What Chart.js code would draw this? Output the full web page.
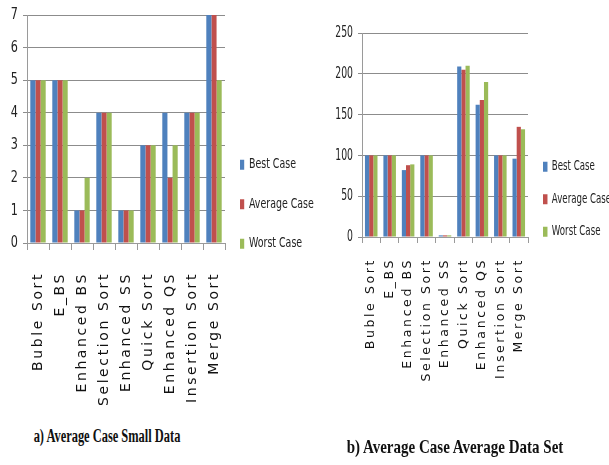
<!DOCTYPE html>
<html>
<head>
<meta charset="utf-8">
<script src="https://cdn.jsdelivr.net/npm/chart.js@4/dist/chart.umd.min.js"></script>
<style>
  html, body { margin: 0; padding: 0; background: #fff; }
  body { width: 609px; height: 465px; position: relative; overflow: hidden; }
  canvas { position: absolute; top: 0; }
  #chartA { left: 0; }
  #chartB { left: 320px; }
  .caption {
    position: absolute;
    font-family: "Liberation Serif", "Times New Roman", serif;
    font-weight: bold;
    color: #111;
    white-space: nowrap;
    transform-origin: center;
  }
  #capA { left: 107px; top: 426px; font-size: 18px; transform: translateX(-50%) scaleX(0.69); }
  #capB { left: 455px; top: 436px; font-size: 19px; transform: translateX(-50%) scaleX(0.79); }
</style>
</head>
<body>
<canvas id="chartA" width="340" height="420"></canvas>
<canvas id="chartB" width="289" height="420"></canvas>
<div class="caption" id="capA">a) Average Case Small Data</div>
<div class="caption" id="capB">b) Average Case Average Data Set</div>
<script>
// Sorting algorithms compared
const algorithms = ['Buble Sort', 'E_BS', 'Enhanced BS', 'Selection Sort', 'Enhanced SS',
                    'Quick Sort', 'Enhanced QS', 'Insertion Sort', 'Merge Sort'];
const seriesNames = ['Best Case', 'Average Case', 'Worst Case'];

// a) small data
const smallBest    = [5, 5, 1, 4, 1, 3, 4, 4, 7];
const smallAverage = [5, 5, 1, 4, 1, 3, 2, 4, 7];
const smallWorst   = [5, 5, 2, 4, 1, 3, 3, 4, 5];
const smallTicks   = [0, 1, 2, 3, 4, 5, 6, 7];

// b) average data set
const avgBest    = [100, 100, 82, 100, 2, 209, 162, 100, 96];
const avgAverage = [100, 100, 88, 100, 2, 205, 168, 100, 135];
const avgWorst   = [100, 100, 89, 100, 2, 210, 190, 100, 132];
const avgTicks   = [0, 50, 100, 150, 200, 250];

const seriesColors = ['#4F81BD', '#C0504D', '#9BBB59'];
const baseFont = '"DejaVu Sans", Verdana, sans-serif';

// Letter-spaced category labels, horizontally condensed value labels and legend
const textStyling = {
  id: 'textStyling',
  afterLayout(chart, args, opts) {
    // place the legend block beside the plot
    const l = chart.legend;
    if (l) {
      l.left += opts.legendDx || 0;
      l.top += opts.legendDy || 0;
      l.bottom += opts.legendDy || 0;
    }
  },
  beforeDraw(chart, args, opts) {
    const x = chart.scales.x, y = chart.scales.y, l = chart.legend;
    if (!x._styled) {
      const orig = x.drawLabels;
      x.drawLabels = function (area) {
        const ctx = this.ctx;
        ctx.save();
        ctx.letterSpacing = opts.spacing || '0px';
        orig.call(this, area);
        ctx.restore();
      };
      x._styled = true;
    }
    if (!y._styled) {
      const orig = y.drawLabels;
      y.drawLabels = function (area) {
        const ctx = this.ctx;
        const ox = this.right - this.options.grid.tickLength - this.options.ticks.padding;
        ctx.save();
        ctx.translate(ox, 0);
        ctx.scale(opts.tickScale, 1);
        ctx.translate(-ox, 0);
        orig.call(this, area);
        ctx.restore();
      };
      y._styled = true;
    }
    if (l && !l._styled) {
      const orig = l.draw;
      l.draw = function (area) {
        const ctx = this.ctx;
        const k = opts.legendScale;
        const ox = this.left + this.options.labels.padding;
        const right = this.right;
        this.right = ox + (right - ox) / k;
        ctx.save();
        ctx.translate(ox, 0);
        ctx.scale(k, 1);
        ctx.translate(-ox, 0);
        orig.call(this, area);
        ctx.restore();
        this.right = right;
      };
      l._styled = true;
    }
  }
};

function makeChart(id, values, ticks, cfg) {
  const datasets = values.map((v, i) => ({
    label: seriesNames[i],
    data: v,
    backgroundColor: seriesColors[i],
    borderWidth: 0,
    categoryPercentage: cfg.catPct,
    barPercentage: 1.0
  }));
  return new Chart(document.getElementById(id), {
    type: 'bar',
    data: { labels: algorithms, datasets },
    plugins: [textStyling],
    options: {
      responsive: false,
      animation: false,
      devicePixelRatio: 1,
      layout: { padding: cfg.padding },
      plugins: {
        tooltip: { enabled: false },
        textStyling: {
          spacing: cfg.letterSpacing,
          tickScale: cfg.tickScale,
          legendScale: cfg.legendScale,
          legendDx: cfg.legendDx,
          legendDy: cfg.legendDy
        },
        legend: {
          position: 'right',
          align: 'start',
          maxWidth: cfg.legendWidth,
          labels: {
            boxWidth: cfg.boxW,
            boxHeight: cfg.boxH,
            padding: cfg.legendPad,
            color: '#222',
            font: { family: baseFont, size: cfg.legendFont }
          }
        }
      },
      scales: {
        x: {
          afterFit: s => { s.height = cfg.xHeight; },
          grid: { offset: true, drawOnChartArea: false, tickLength: cfg.tickLen, color: '#9a9a9a' },
          border: { color: '#9a9a9a' },
          ticks: {
            autoSkip: false,
            minRotation: 90,
            maxRotation: 90,
            padding: cfg.xPad,
            color: '#111',
            font: { family: baseFont, size: cfg.xFont }
          }
        },
        y: {
          min: ticks[0],
          max: ticks[ticks.length - 1],
          afterFit: s => { s.width = cfg.yWidth; },
          afterBuildTicks: s => { s.ticks = ticks.map(v => ({ value: v })); },
          grid: { color: '#8c8c8c', tickLength: 4 },
          border: { color: '#9a9a9a' },
          ticks: {
            padding: 5,
            color: '#222',
            font: { family: baseFont, size: cfg.yFont }
          }
        }
      }
    }
  });
}

makeChart('chartA', [smallBest, smallAverage, smallWorst], smallTicks, {
  catPct: 0.7,
  padding: { left: 0, top: 15, right: 5, bottom: 0 },
  letterSpacing: '2.6px',
  tickScale: 0.7, legendScale: 0.7,
  legendDx: -11, legendDy: 117,
  legendWidth: 110,
  boxW: 6, boxH: 10, legendPad: 26, legendFont: 13.5,
  xHeight: 177, tickLen: 7, xPad: 22, xFont: 14,
  yWidth: 27, yFont: 16
});

makeChart('chartB', [avgBest, avgAverage, avgWorst], avgTicks, {
  catPct: 0.68,
  padding: { left: 0, top: 33, right: 0, bottom: 0 },
  letterSpacing: '2.6px',
  tickScale: 0.58, legendScale: 0.64,
  legendDx: -4, legendDy: 108,
  legendWidth: 81,
  boxW: 7, boxH: 10, legendPad: 19, legendFont: 13.5,
  xHeight: 183, tickLen: 6, xPad: 15, xFont: 12.5,
  yWidth: 42, yFont: 16
});
</script>
</body>
</html>
